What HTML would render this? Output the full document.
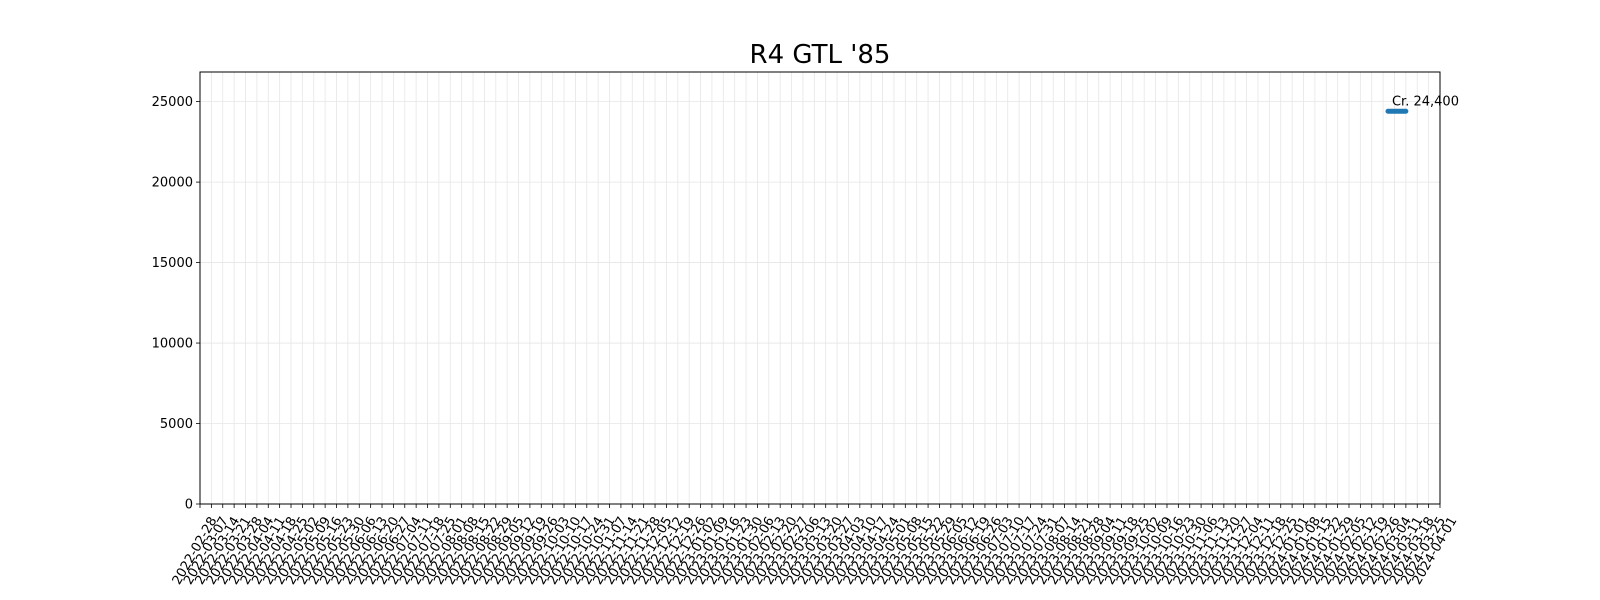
<!DOCTYPE html>
<html><head><meta charset="utf-8"><style>
body{margin:0;background:#fff;}
svg{display:block;font-family:"DejaVu Sans","Liberation Sans",sans-serif;}
</style></head><body>
<svg id="chart" width="1600" height="600" xmlns="http://www.w3.org/2000/svg">
<rect width="1600" height="600" fill="#fff"/>
<text x="820" y="63" font-size="26" text-anchor="middle" fill="#000">R4 GTL '85</text>
<g id="grid"></g><g id="xaxis"></g><g id="yaxis"></g><g id="series"></g>
<rect x="200" y="72" width="1240" height="432" fill="none" stroke="#000" stroke-width="1"/>
</svg>
<script>
const startTick = "2022-02-28";
const tickCount = 110;
const yTicks = [0, 5000, 10000, 15000, 20000, 25000];
const dates = ["2024-02-29", "2024-03-04", "2024-03-08", "2024-03-11"];
const prices = [24400, 24400, 24400, 24400];
const annotationText = "Cr. 24,400";
const yMax = 26840;

const L=200,R=1440,T=72,B=504,NS="http://www.w3.org/2000/svg";
const day=86400000, t0=Date.parse(startTick+"T00:00:00Z");
const tEnd=t0+(tickCount-1)*7*day;
function xs(d){return L+(Date.parse(d+"T00:00:00Z")-t0)/(tEnd-t0)*(R-L);}
function ys(v){return B-v/yMax*(B-T);}
function mk(tag,a,p){const e=document.createElementNS(NS,tag);for(const k in a)e.setAttribute(k,a[k]);p.appendChild(e);return e;}
const grid=document.getElementById('grid'),xa=document.getElementById('xaxis'),ya=document.getElementById('yaxis'),se=document.getElementById('series');
for(let i=0;i<tickCount;i++){
  const d=new Date(t0+i*7*day).toISOString().slice(0,10);
  const x=xs(d);
  const g=mk('line',{x1:x,x2:x,y1:T,y2:B,stroke:'#e6e6e6','stroke-width':0.8},grid);
  
  
  const tk=mk('line',{x1:x,x2:x,y1:B,y2:B+4,stroke:'#000','stroke-width':0.8},xa);
  
  
  const tx=mk('text',{'font-size':13,'text-anchor':'end',transform:`translate(${x+17},${B+16}) rotate(-60)`,fill:'#000'},xa);
  tx.textContent=d;
  
  
}
yTicks.forEach(v=>{
  const y=ys(v);
  const g=mk('line',{x1:L,x2:R,y1:y,y2:y,stroke:'#e6e6e6','stroke-width':0.8},grid);
  
  
  const tk=mk('line',{x1:L-4,x2:L,y1:y,y2:y,stroke:'#000','stroke-width':0.8},ya);
  
  
  const tx=mk('text',{x:L-7,y:y+4.5,'font-size':13,'text-anchor':'end',fill:'#000'},ya);
  tx.textContent=String(v);
  
  
});
const pts=dates.map((d,i)=>xs(d)+','+ys(prices[i])).join(' ');
const pl=mk('polyline',{points:pts,fill:'none',stroke:'#1f77b4','stroke-width':5,'stroke-linecap':'round','stroke-linejoin':'round'},se);


const an=mk('text',{x:xs(dates[0])+4,y:ys(prices[0])-6,'font-size':13,fill:'#000'},se);
an.textContent=annotationText;


</script>
</body></html>
